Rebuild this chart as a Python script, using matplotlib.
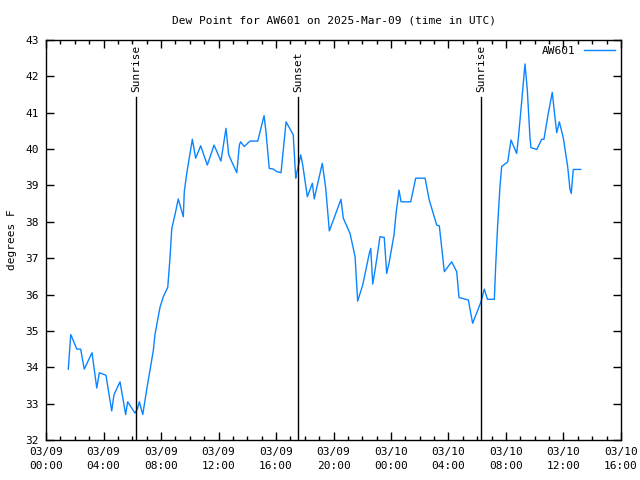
import matplotlib
matplotlib.use("Agg")
import matplotlib.pyplot as plt
import matplotlib.dates as mdates
import pandas as pd

# hours after 2025-03-09 00:00 UTC, and dew point (F)
hours = [1.55, 1.72, 1.83, 2.14, 2.41, 2.66, 3.20, 3.53, 3.71, 4.17, 4.57, 4.73,
         5.15, 5.54, 5.68, 6.19, 6.35, 6.49, 6.73, 7.01, 7.46, 7.58, 7.93, 8.16,
         8.47, 8.63, 8.75, 8.97, 9.20, 9.55, 9.62, 9.79, 10.18, 10.41, 10.76, 11.22,
         11.69, 12.17, 12.52, 12.71, 13.27, 13.45, 13.54, 13.79, 14.19, 14.73, 15.17,
         15.30, 15.53, 15.81, 16.05, 16.35, 16.70, 17.20, 17.37, 17.44, 17.55, 17.72,
         17.86, 18.18, 18.53, 18.66, 19.22, 19.46, 19.71, 20.52, 20.68, 21.15, 21.50,
         21.68, 22.03, 22.49, 22.59, 22.73, 22.89, 23.05, 23.23, 23.53, 23.70, 23.86,
         24.21, 24.35, 24.56, 24.70, 25.37, 25.72, 26.37, 26.66, 27.18, 27.36, 27.71,
         28.22, 28.57, 28.73, 29.38, 29.68, 30.26, 30.49, 30.71, 31.19, 31.28, 31.42,
         31.58, 31.70, 32.12, 32.35, 32.74, 32.86, 33.09, 33.32, 33.48, 33.67, 33.74,
         34.14, 34.48, 34.64, 34.94, 35.22, 35.41, 35.53, 35.71, 35.99, 36.29, 36.45,
         36.54, 36.68, 37.20]
dewpt = [33.95, 34.90, 34.80, 34.50, 34.50, 33.95, 34.40, 33.43, 33.85, 33.78, 32.80, 33.25,
         33.60, 32.70, 33.05, 32.74, 32.85, 33.05, 32.70, 33.40, 34.45, 34.90, 35.65, 35.94,
         36.20, 37.04, 37.82, 38.19, 38.63, 38.14, 38.83, 39.33, 40.27, 39.75, 40.09, 39.56,
         40.11, 39.67, 40.57, 39.84, 39.35, 40.11, 40.20, 40.07, 40.22, 40.22, 40.92,
         40.48, 39.47, 39.45, 39.38, 39.35, 40.75, 40.39, 39.20, 39.35, 39.52, 39.84,
         39.56, 38.69, 39.06, 38.63, 39.61, 38.92, 37.75, 38.62, 38.10, 37.68, 37.04,
         35.82, 36.26, 37.13, 37.27, 36.29, 36.67, 37.09, 37.59, 37.57, 36.58, 36.86,
         37.64, 38.23, 38.87, 38.55, 38.55, 39.20, 39.20, 38.60, 37.91, 37.89, 36.63,
         36.90, 36.63, 35.92, 35.85, 35.21, 35.80, 36.15, 35.87, 35.87, 36.77, 37.91,
         38.97, 39.52, 39.65, 40.25, 39.88, 40.30, 41.30, 42.34, 41.64, 40.30, 40.04,
         39.99, 40.27, 40.27, 40.98, 41.56, 40.85, 40.45, 40.75, 40.30, 39.52, 38.90,
         38.78, 39.44, 39.44]

event_hours = [6.26, 17.54, 30.27]
event_names = ["Sunrise", "Sunset", "Sunrise"]

start = pd.Timestamp("2025-03-09 00:00")
times = [start + pd.Timedelta(hours=h) for h in hours]

plt.rcParams['font.family'] = ['DejaVu Sans Mono']
plt.rcParams['font.size'] = 8

fig = plt.figure(figsize=(6.4, 4.8), dpi=100)
ax = fig.add_axes([0.0719, 0.0833, 0.8984, 0.8334])

ax.plot(times, dewpt, color='#0a84ff', linewidth=1.0, label='AW601')

for h, name in zip(event_hours, event_names):
    t = start + pd.Timedelta(hours=h)
    ax.plot([t, t], [32, 41.42], color='black', linewidth=1.0)
    ax.text(t, 41.57, name, rotation=90, ha='center', va='bottom', fontsize=8)

ax.set_xlim(start, start + pd.Timedelta(hours=40))
ax.set_ylim(32, 43)
ax.xaxis.set_major_locator(mdates.HourLocator(byhour=range(0, 24, 4)))
ax.xaxis.set_minor_locator(mdates.HourLocator())
ax.xaxis.set_major_formatter(mdates.DateFormatter('%m/%d\n%H:%M'))
ax.set_yticks(range(32, 44))
for lbl in ax.get_xticklabels():
    lbl.set_linespacing(1.5)

ax.tick_params(which='both', direction='in', top=True, right=True, width=1.0)
ax.tick_params(which='major', length=6, pad=5)
ax.tick_params(which='minor', length=3)
for s in ax.spines.values():
    s.set_linewidth(1.0)

ax.set_title('Dew Point for AW601 on 2025-Mar-09 (time in UTC)', fontsize=8, pad=12)
ax.set_ylabel('degrees F', fontsize=8, labelpad=6)

leg = ax.legend(loc='upper right', frameon=False, fontsize=8, handlelength=2.8,
                handletextpad=0.8, borderaxespad=0.1, markerfirst=False)

fig.savefig('out.png', dpi=100)
